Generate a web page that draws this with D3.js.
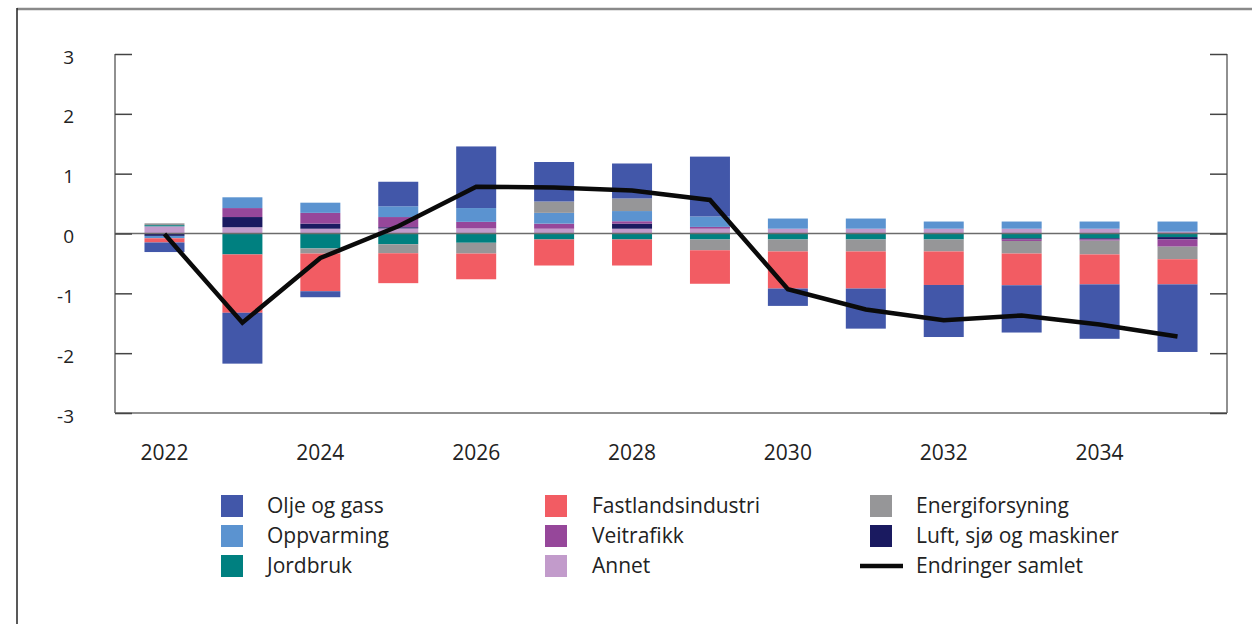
<!DOCTYPE html>
<html>
<head>
<meta charset="utf-8">
<script src="https://d3js.org/d3.v7.min.js"></script>
<style>
  body { margin: 0; background: #fff; }
  svg { display: block; font-family: "Open Sans", sans-serif; }
</style>
</head>
<body>
<svg id="chart" width="1252" height="624"></svg>
<script>
// years on the x axis
var years = [2022, 2023, 2024, 2025, 2026, 2027, 2028, 2029, 2030, 2031, 2032, 2033, 2034, 2035];
var xTicks = [2022, 2024, 2026, 2028, 2030, 2032, 2034];
var yTicks = [-3, -2, -1, 0, 1, 2, 3];

// values per sector
var oljeOgGass = [-0.16, -0.85, -0.10, 0.41, 1.03, 0.66, 0.585, 1.00, -0.29, -0.67, -0.87, -0.79, -0.91, -1.13];
var oppvarming = [-0.04, 0.18, 0.17, 0.18, 0.23, 0.18, 0.17, 0.175, 0.17, 0.17, 0.12, 0.12, 0.12, 0.17];
var jordbruk = [0.02, -0.35, -0.25, -0.18, -0.155, -0.10, -0.10, -0.10, -0.10, -0.10, -0.10, -0.08, -0.08, -0.06];
var fastlandsindustri = [-0.07, -0.975, -0.63, -0.50, -0.43, -0.435, -0.435, -0.56, -0.62, -0.62, -0.56, -0.53, -0.50, -0.42];
var veitrafikk = [0, 0.15, 0.18, 0.17, 0.11, 0.085, 0.04, 0.03, 0, 0, 0, -0.025, -0.02, -0.12];
var annet = [0.12, 0.105, 0.08, 0.085, 0.085, 0.08, 0.08, 0.08, 0.08, 0.08, 0.08, 0.08, 0.08, 0.03];
var energiforsyning = [0.03, 0, -0.085, -0.15, -0.18, 0.19, 0.21, -0.18, -0.20, -0.20, -0.20, -0.21, -0.23, -0.21];
var luftSjo = [-0.04, 0.17, 0.085, 0.02, 0, 0, 0.085, 0, 0, 0, 0, -0.02, -0.02, -0.04];
// total change (line)
var endringerSamlet = [-0.01, -1.49, -0.41, 0.12, 0.78, 0.77, 0.72, 0.56, -0.93, -1.27, -1.45, -1.37, -1.52, -1.72];

var series = {
  "Olje og gass": oljeOgGass,
  "Oppvarming": oppvarming,
  "Jordbruk": jordbruk,
  "Fastlandsindustri": fastlandsindustri,
  "Veitrafikk": veitrafikk,
  "Annet": annet,
  "Energiforsyning": energiforsyning,
  "Luft, sjø og maskiner": luftSjo
};
var colors = {
  "Olje og gass": "#4257a9",
  "Oppvarming": "#5b93d0",
  "Jordbruk": "#008080",
  "Fastlandsindustri": "#f25c63",
  "Veitrafikk": "#96479a",
  "Annet": "#c29bcb",
  "Energiforsyning": "#969698",
  "Luft, sjø og maskiner": "#1a1a60"
};
// stacking order (from zero outward)
var stackKeys = ["Annet", "Jordbruk", "Luft, sjø og maskiner", "Veitrafikk", "Oppvarming",
                 "Energiforsyning", "Fastlandsindustri", "Olje og gass"];

var rows = years.map(function(yr, i) {
  var r = { year: yr };
  for (var k in series) r[k] = series[k][i];
  return r;
});

var svg = d3.select("#chart");
var pLeft = 115, pRight = 1227, pTop = 54, pBottom = 413;

var x = d3.scalePoint().domain(years).range([pLeft, pRight]).padding(0.635);
var y = d3.scaleLinear().domain([-3, 3]).range([pBottom, pTop]);
var barW = 40;

// page frame
svg.append("line").attr("x1", 17).attr("x2", 1252).attr("y1", 9).attr("y2", 9)
  .attr("stroke", "#8a8a8a").attr("stroke-width", 2.5);
svg.append("line").attr("x1", 17).attr("x2", 17).attr("y1", 8).attr("y2", 624)
  .attr("stroke", "#222").attr("stroke-width", 1.5);

// bars
var stack = d3.stack().keys(stackKeys).offset(d3.stackOffsetDiverging);
var stacked = stack(rows);
svg.append("g").selectAll("g").data(stacked).join("g")
  .attr("fill", function(d) { return colors[d.key]; })
  .selectAll("rect").data(function(d) { return d; }).join("rect")
  .attr("x", function(d) { return x(d.data.year) - barW / 2; })
  .attr("width", barW)
  .attr("y", function(d) { return y(Math.max(d[0], d[1])); })
  .attr("height", function(d) { return Math.abs(y(d[0]) - y(d[1])); });

// axes frame (no top line, only tick stubs)
var axisColor = "#6b6b6b";
svg.append("line").attr("x1", pLeft).attr("x2", pLeft).attr("y1", pTop).attr("y2", pBottom)
  .attr("stroke", axisColor).attr("stroke-width", 1.5);
svg.append("line").attr("x1", pRight).attr("x2", pRight).attr("y1", pTop).attr("y2", pBottom)
  .attr("stroke", axisColor).attr("stroke-width", 1.5);
svg.append("line").attr("x1", pLeft).attr("x2", pRight).attr("y1", pBottom).attr("y2", pBottom)
  .attr("stroke", axisColor).attr("stroke-width", 1.5);
svg.append("line").attr("x1", pLeft).attr("x2", pRight).attr("y1", y(0)).attr("y2", y(0))
  .attr("stroke", axisColor).attr("stroke-width", 1.5);

var yAxisL = d3.axisRight(y).tickValues(yTicks).tickSize(17).tickFormat("");
var gl = svg.append("g").attr("transform", "translate(" + pLeft + ",0)").call(yAxisL);
gl.select(".domain").remove();
gl.selectAll(".tick line").attr("stroke", "#444").attr("stroke-width", 1.5);

var yAxisR = d3.axisLeft(y).tickValues(yTicks).tickSize(17).tickFormat("");
var gr = svg.append("g").attr("transform", "translate(" + pRight + ",0)").call(yAxisR);
gr.select(".domain").remove();
gr.selectAll(".tick line").attr("stroke", "#444").attr("stroke-width", 1.5);

// y labels
svg.append("g").selectAll("text").data(yTicks).join("text")
  .attr("x", 74).attr("y", function(d) { return y(d) + 3; })
  .attr("dy", "0.35em").attr("text-anchor", "end")
  .attr("font-size", 19).attr("fill", "#222")
  .text(function(d) { return d; });

// x labels
svg.append("g").selectAll("text").data(xTicks).join("text")
  .attr("x", function(d) { return x(d); }).attr("y", 453)
  .attr("dy", "0.35em").attr("text-anchor", "middle")
  .attr("font-size", 21).attr("fill", "#222")
  .text(function(d) { return d; });

// total line
var line = d3.line()
  .x(function(d, i) { return x(years[i]); })
  .y(function(d) { return y(d); });
svg.append("path").datum(endringerSamlet)
  .attr("d", line).attr("fill", "none")
  .attr("stroke", "#0a0a0a").attr("stroke-width", 4.5);

// legend
var legendItems = [
  ["Olje og gass", 0, 0], ["Oppvarming", 0, 1], ["Jordbruk", 0, 2],
  ["Fastlandsindustri", 1, 0], ["Veitrafikk", 1, 1], ["Annet", 1, 2],
  ["Energiforsyning", 2, 0], ["Luft, sjø og maskiner", 2, 1], ["Endringer samlet", 2, 2]
];
var colX = [221, 545, 870];
var textX = [267, 592, 916];
var rowY = [506, 536, 566];
var lg = svg.append("g");
legendItems.forEach(function(it) {
  var name = it[0], c = it[1], r = it[2];
  if (name === "Endringer samlet") {
    lg.append("line").attr("x1", 860).attr("x2", 903).attr("y1", rowY[r]).attr("y2", rowY[r])
      .attr("stroke", "#0a0a0a").attr("stroke-width", 4.5);
  } else {
    lg.append("rect").attr("x", colX[c]).attr("y", rowY[r] - 11)
      .attr("width", 22).attr("height", 22).attr("fill", colors[name]);
  }
  lg.append("text").attr("x", textX[c]).attr("y", rowY[r]).attr("dy", "0.35em")
    .attr("font-size", 21).attr("fill", "#222").text(name);
});
</script>
</body>
</html>
